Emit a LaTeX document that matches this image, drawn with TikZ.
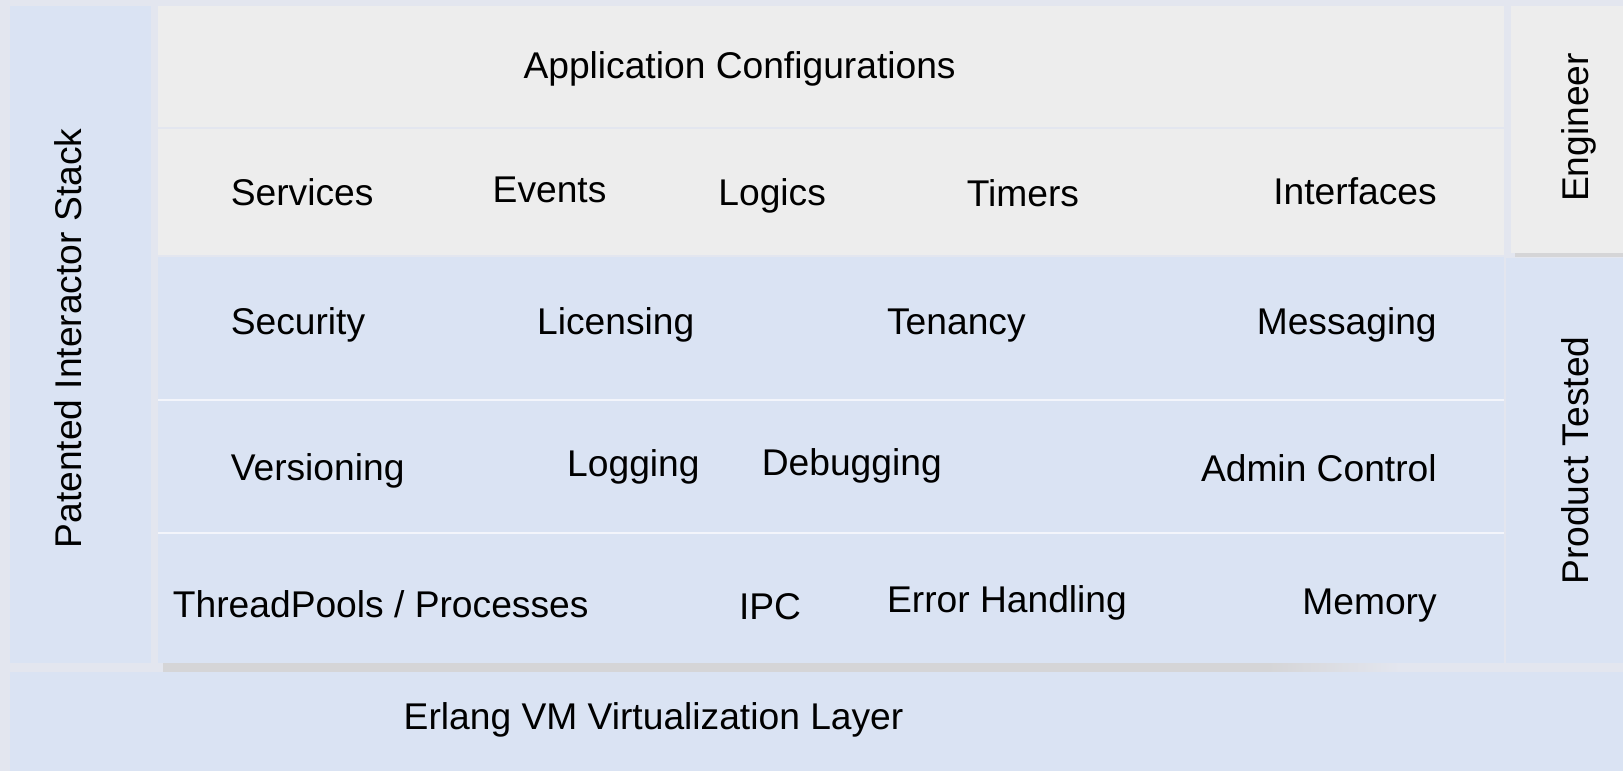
\documentclass[tikz,border=0pt]{standalone}
\usepackage{fontspec}
\setmainfont{Liberation Sans}
\definecolor{bgc}{HTML}{E3E6EF}
\definecolor{bluec}{HTML}{DAE3F3}
\definecolor{greyc}{HTML}{EDEDED}
\definecolor{shadowc}{HTML}{D5D5D7}
\definecolor{sepc}{HTML}{F3F5FB}
\begin{document}
\begin{tikzpicture}[x=1pt,y=-1pt,
  lbl/.style={inner sep=0pt, outer sep=0pt, text=black, font=\fontsize{37.2}{44}\selectfont},
  bluebox/.style={fill=bluec},
  greybox/.style={fill=greyc},
  sepline/.style={draw=sepc, line width=1.5pt}]
\useasboundingbox (0,0) rectangle (1623,771);
\fill[bgc] (0,0) rectangle (1623,771);
% left column
\path[bluebox] (10,6) rectangle (151,663);
% top grey boxes
\path[greybox] (158,6) rectangle (1504,126.5);
\path[greybox] (158,128.5) rectangle (1504,255);
\path[greybox] (1511,6) rectangle (1623,253);
\fill[shadowc] (1515,253) rectangle (1623,257);
% blue stack
\path[bluebox] (158,257) rectangle (1504,663);
\path[bluebox] (1506,258) rectangle (1623,663);
\draw[sepline] (158,400) -- (1504,400);
\draw[sepline] (158,533) -- (1504,533);
% shadow under stack
\shade[left color=shadowc, right color=shadowc] (163,663) rectangle (1268,671);
\shade[left color=shadowc, right color=bgc] (1268,663) rectangle (1400,671);
% Erlang layer
\path[bluebox] (10,672) rectangle (1623,771);

% labels
\node[lbl, anchor=base] (appcfg) at (739.6,78.7) {Application Configurations};
\node[lbl, anchor=base west] (services) at (230.8,205) {Services};
\node[lbl, anchor=base west] (events) at (492.7,202) {Events};
\node[lbl, anchor=base west] (logics) at (718.4,205) {Logics};
\node[lbl, anchor=base west] (timers) at (966.8,206) {Timers};
\node[lbl, anchor=base east] (interfaces) at (1436.7,204) {Interfaces};

\node[lbl, anchor=base west] (security) at (230.8,334) {Security};
\node[lbl, anchor=base west] (licensing) at (537.2,334) {Licensing};
\node[lbl, anchor=base west] (tenancy) at (887.1,334) {Tenancy};
\node[lbl, anchor=base east] (messaging) at (1436.7,334) {Messaging};

\node[lbl, anchor=base west] (versioning) at (230.8,480) {Versioning};
\node[lbl, anchor=base west] (logging) at (567.2,476) {Logging};
\node[lbl, anchor=base west] (debugging) at (761.8,475) {Debugging};
\node[lbl, anchor=base east] (admin) at (1436.7,481) {Admin Control};

\node[lbl, anchor=base west] (threads) at (172.9,617) {ThreadPools / Processes};
\node[lbl, anchor=base west] (ipc) at (739,619) {IPC};
\node[lbl, anchor=base west] (errors) at (887.1,612) {Error Handling};
\node[lbl, anchor=base east] (memory) at (1436.7,614) {Memory};

\node[lbl, anchor=base west] (erlang) at (403.7,729) {Erlang VM Virtualization Layer};

\node[lbl, anchor=base, rotate=90] (patented) at (81,338.5) {Patented Interactor Stack};
\node[lbl, anchor=base, rotate=90] (engineer) at (1588,127.5) {Engineer};
\node[lbl, anchor=base, rotate=90] (tested) at (1588,460.5) {Product Tested};
\end{tikzpicture}
\end{document}
